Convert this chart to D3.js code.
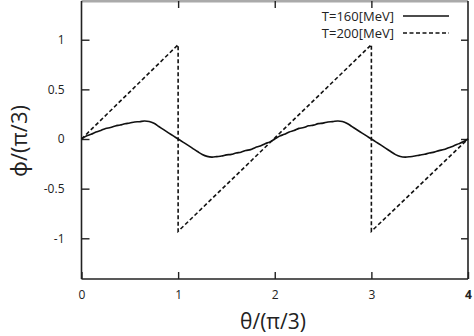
<!DOCTYPE html>
<html><head><meta charset="utf-8">
<script src="https://cdn.jsdelivr.net/npm/d3@7"></script>
<style>body{margin:0;background:#fff}svg{display:block}text{font-family:"Open Sans","Noto Sans",sans-serif;fill:#222}</style>
</head><body>
<svg id="c" width="474" height="336"></svg>
<script>
const xTicks = [0, 1, 2, 3, 4];
const yTicks = [-1, -0.5, 0, 0.5, 1];
const yTickLabels = ["-1", "-0.5", "0", "0.5", "1"];
const seriesNames = ["T=160[MeV]", "T=200[MeV]"];
const solidX = [0,0.05,0.1,0.15,0.2,0.25,0.3,0.35,0.4,0.45,0.5,0.55,0.6,0.65,0.7,0.75,0.8,0.85,0.9,0.95,1,
  1.05,1.1,1.15,1.2,1.25,1.3,1.35,1.4,1.45,1.5,1.55,1.6,1.65,1.7,1.75,1.8,1.85,1.9,1.95,2,
  2.05,2.1,2.15,2.2,2.25,2.3,2.35,2.4,2.45,2.5,2.55,2.6,2.65,2.7,2.75,2.8,2.85,2.9,2.95,3,
  3.05,3.1,3.15,3.2,3.25,3.3,3.35,3.4,3.45,3.5,3.55,3.6,3.65,3.7,3.75,3.8,3.85,3.9,3.95,4];
const solidY = [0,0.03,0.048,0.07,0.086,0.106,0.116,0.132,0.141,0.154,0.161,0.172,0.174,0.181,0.176,0.158,0.126,0.094,0.062,0.031,0,
  -0.031,-0.062,-0.094,-0.126,-0.156,-0.175,-0.182,-0.177,-0.172,-0.16,-0.155,-0.14,-0.133,-0.116,-0.107,-0.085,-0.071,-0.047,-0.029,0,
  0.029,0.047,0.071,0.085,0.107,0.115,0.133,0.14,0.155,0.16,0.172,0.175,0.182,0.177,0.157,0.125,0.093,0.062,0.031,0,
  -0.031,-0.062,-0.094,-0.126,-0.157,-0.176,-0.182,-0.178,-0.171,-0.162,-0.154,-0.141,-0.132,-0.117,-0.106,-0.087,-0.07,-0.049,-0.028,0];
const dashX = [0, 1, 1, 3, 3, 4];
const dashY = [0, 0.95, -0.93, 0.95, -0.93, 0];

const svg = d3.select("#c");
const L = 81.5, R = 468, T = 1, B = 279;
const x = d3.scaleLinear().domain([0, 4]).range([L, R]);
const y = d3.scaleLinear().domain([-1.41, 1.39]).range([B, T]);
const ink = "#222";

// frame
svg.append("line").attr("x1", L).attr("x2", R).attr("y1", T).attr("y2", T).attr("stroke", "#aaa").attr("stroke-width", 3);
svg.append("line").attr("x1", L).attr("x2", L).attr("y1", T).attr("y2", B).attr("stroke", ink).attr("stroke-width", 1.6);
svg.append("line").attr("x1", R).attr("x2", R).attr("y1", T).attr("y2", B).attr("stroke", ink).attr("stroke-width", 1.6);
svg.append("line").attr("x1", L).attr("x2", R).attr("y1", B).attr("y2", B).attr("stroke", ink).attr("stroke-width", 1.6);

// axes with inward ticks
const xb = d3.axisBottom(x).tickValues(xTicks).tickSize(-7).tickPadding(11).tickFormat(d3.format("d"));
const gx = svg.append("g").attr("transform", `translate(0,${B})`).call(xb);
const yl = d3.axisLeft(y).tickValues(yTicks).tickSize(-8).tickPadding(17).tickFormat((d, i) => yTickLabels[i]);
const gy = svg.append("g").attr("transform", `translate(${L},0)`).call(yl);
const yr = d3.axisRight(y).tickValues(yTicks).tickSize(-7).tickFormat("");
const gyr = svg.append("g").attr("transform", `translate(${R},0)`).call(yr);
const xt = d3.axisTop(x).tickValues([1, 2, 3]).tickSize(-7).tickFormat("");
const gxt = svg.append("g").attr("transform", `translate(0,${T})`).call(xt);
[gx, gy, gyr, gxt].forEach(g => {
  g.select(".domain").remove();
  g.selectAll(".tick line").attr("stroke", ink).attr("stroke-width", 1.4);
  g.selectAll("text").style("font-size", "12px").attr("fill", "#333").style("font-family", "'Open Sans',sans-serif");
});
gx.selectAll(".tick text").filter(d => d === 4).style("font-weight", "bold");

// lines
const line = d3.line().x(d => x(d[0])).y(d => y(d[1]));
const smooth = d3.line().x(d => x(d[0])).y(d => y(d[1])).curve(d3.curveCatmullRom);
svg.append("path").datum(solidX.map((v, i) => [v, solidY[i]])).attr("d", smooth)
  .attr("fill", "none").attr("stroke", "#111").attr("stroke-width", 1.6).attr("stroke-linejoin", "round");
svg.append("path").datum(dashX.map((v, i) => [v, dashY[i]])).attr("d", line)
  .attr("fill", "none").attr("stroke", "#111").attr("stroke-width", 1.6).attr("stroke-dasharray", "4,2.5");

// legend
const lg = svg.append("g");
[0, 1].forEach(i => {
  const yy = 16 + i * 17;
  lg.append("text").attr("x", 394).attr("y", yy + 4.5).attr("text-anchor", "end").style("font-size", "13px").text(seriesNames[i]);
  lg.append("line").attr("x1", 403).attr("x2", 449).attr("y1", yy).attr("y2", yy)
    .attr("stroke", "#111").attr("stroke-width", 1.6).attr("stroke-dasharray", i ? "4,2.5" : null);
});

// axis titles
svg.append("text").attr("x", 273).attr("y", 329).attr("text-anchor", "middle").style("font-size", "21px").text("θ/(π/3)");
svg.append("text").attr("transform", "translate(27,141) rotate(-90)").attr("text-anchor", "middle").style("font-size", "22px").text("ϕ/(π/3)");
</script>
</body></html>
